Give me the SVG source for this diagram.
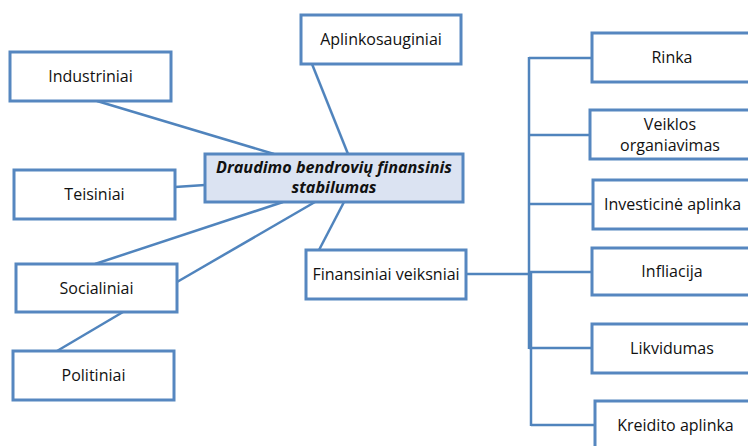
<svg xmlns="http://www.w3.org/2000/svg" width="748" height="446" viewBox="0 0 748 446">
<style>
.box{fill:#ffffff;stroke:#5687c0;stroke-width:3}
.main{fill:#dbe3f2;stroke:#5687c0;stroke-width:3}
.ln{stroke:#5084bd;stroke-width:2.5;fill:none}
text{font-family:"Open Sans","Noto Sans","Liberation Sans",sans-serif;font-size:16px;fill:#111111;text-anchor:middle}
.b{font-weight:bold;font-style:italic;font-size:16.2px}
</style>
<rect width="748" height="446" fill="#ffffff"/>
<g id="connectors">
<line class="ln" x1="97" y1="101" x2="274" y2="154"/>
<line class="ln" x1="312" y1="64" x2="348" y2="154"/>
<line class="ln" x1="175" y1="187" x2="205" y2="185"/>
<line class="ln" x1="95" y1="264" x2="283" y2="202"/>
<line class="ln" x1="177" y1="282" x2="315" y2="202"/>
<line class="ln" x1="344" y1="202" x2="319" y2="250"/>
<line class="ln" x1="123" y1="312" x2="57" y2="351"/>
<line class="ln" x1="466" y1="274" x2="531" y2="274" stroke-width="3"/>
<line class="ln" x1="529" y1="57" x2="529" y2="349"/>
<line class="ln" x1="531" y1="273" x2="531" y2="426"/>
<line class="ln" x1="529" y1="58" x2="592" y2="58"/>
<line class="ln" x1="529" y1="135" x2="590" y2="135"/>
<line class="ln" x1="529" y1="204" x2="593" y2="204"/>
<line class="ln" x1="529" y1="272" x2="592" y2="272"/>
<line class="ln" x1="529" y1="348" x2="592" y2="348"/>
<line class="ln" x1="531" y1="425" x2="595" y2="425"/>
</g>
<g id="aplinkosauginiai"><rect class="box" x="301" y="15" width="160" height="49"/><text x="381" y="45">Aplinkosauginiai</text></g>
<g id="industriniai"><rect class="box" x="10" y="52" width="161" height="49"/><text x="90.5" y="82">Industriniai</text></g>
<g id="center"><rect class="main" x="205" y="154" width="258" height="48"/><text class="b" x="334" y="173">Draudimo bendrovių finansinis</text><text class="b" x="334" y="193">stabilumas</text></g>
<g id="teisiniai"><rect class="box" x="14" y="170" width="161" height="49"/><text x="94.5" y="200">Teisiniai</text></g>
<g id="socialiniai"><rect class="box" x="16" y="264" width="161" height="48"/><text x="96.5" y="294">Socialiniai</text></g>
<g id="politiniai"><rect class="box" x="13" y="351" width="161" height="49"/><text x="93.5" y="381">Politiniai</text></g>
<g id="finansiniai"><rect class="box" x="306" y="250" width="160" height="49"/><text x="386" y="280">Finansiniai veiksniai</text></g>
<g id="rinka"><rect class="box" x="592" y="33" width="160" height="49"/><text x="672" y="63">Rinka</text></g>
<g id="veiklos"><rect class="box" x="590" y="110" width="160" height="49"/><text x="670" y="130">Veiklos</text><text x="670" y="151">organiavimas</text></g>
<g id="investicine"><rect class="box" x="593" y="180" width="160" height="49"/><text x="672.5" y="210">Investicinė aplinka</text></g>
<g id="infliacija"><rect class="box" x="592" y="248" width="160" height="47"/><text x="672" y="277">Infliacija</text></g>
<g id="likvidumas"><rect class="box" x="592" y="324" width="160" height="49"/><text x="672" y="354">Likvidumas</text></g>
<g id="kreidito"><rect class="box" x="595" y="401" width="161" height="49"/><text x="675.5" y="431">Kreidito aplinka</text></g>
</svg>
